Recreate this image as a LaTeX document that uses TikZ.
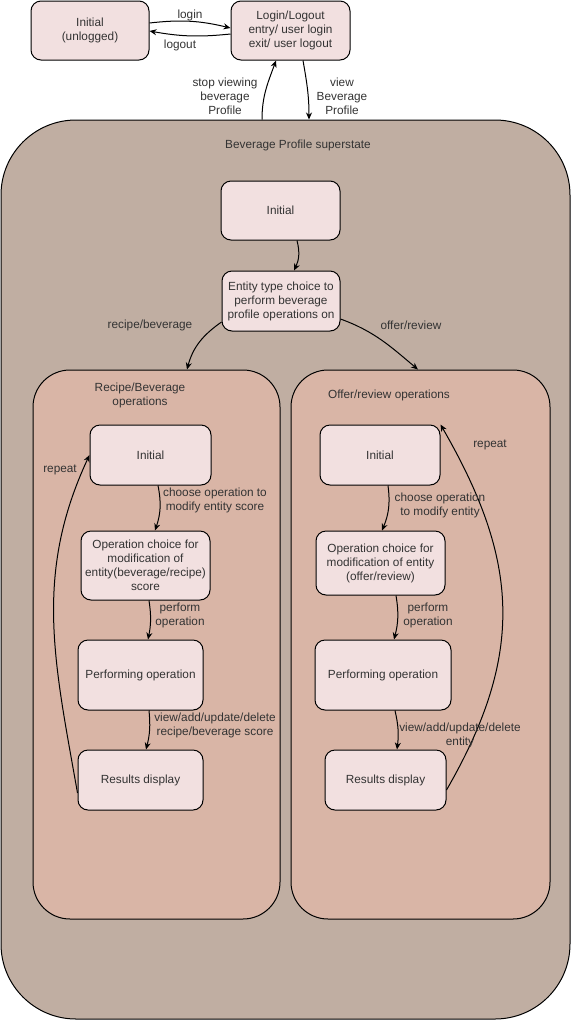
\documentclass[tikz,border=0pt]{standalone}
\usepackage{fontspec}
\setmainfont{Liberation Sans}
\usetikzlibrary{arrows.meta,positioning}
\definecolor{superC}{RGB}{192,174,162}
\definecolor{subC}{RGB}{217,181,166}
\definecolor{stateC}{RGB}{242,224,224}
\definecolor{textC}{RGB}{51,51,51}

\begin{document}
\begin{tikzpicture}
  [x=1pt,y=-1pt,
   stateN/.style={draw,rounded corners=10,fill=stateC,text=textC,align=center,inner sep=2},
   superN/.style={draw,rounded corners=75,fill=superC},
   subN/.style={draw,rounded corners=37,fill=subC},
   lbl/.style={text=textC,align=center,inner sep=1},
   >={Stealth[length=7pt,width=6pt]},
   line width=1pt,
   font=\fontsize{11.8}{14}\selectfont]

  \useasboundingbox (0,0) rectangle (572,1021);

  \node[superN,minimum width=569,minimum height=899] (bevS) at (285.5,569.5) {};
  \node[subN,minimum width=247,minimum height=549]   (recS) at (156.5,644.5) {};
  \node[subN,minimum width=259,minimum height=549]   (offS) at (420.5,644.5) {};

  \node[lbl] (bevT) at (298,145) {Beverage Profile superstate};
  \node[lbl] (recT) at (140,395) {Recipe/Beverage\\operations};
  \node[lbl] (offT) at (389,395) {Offer/review operations};

  \node[stateN,minimum width=118,minimum height=59] (unlog) at  (90,30.5) {Initial\\(unlogged)};
  \node[stateN,minimum width=119,minimum height=59] (login) at (290.5,30.5) {Login/Logout\\entry/ user login\\exit/ user logout};

  \node[stateN,minimum width=119,minimum height=59] (init)   at (280.5,210.5) {Initial};
  \node[stateN,minimum width=118,minimum height=60] (choice) at (281,301) {Entity type choice to\\perform beverage\\profile operations on};

  \node[stateN,minimum width=121,minimum height=60] (rinit)   at (150.5,455)   {Initial};
  \node[stateN,minimum width=129,minimum height=69] (rchoice) at (145.5,565.5) {Operation choice for\\modification of\\entity(beverage/recipe)\\score};
  \node[stateN,minimum width=125,minimum height=70] (rperf)   at (140.5,675)   {Performing operation};
  \node[stateN,minimum width=125,minimum height=60] (rres)    at (140.5,780)   {Results display};

  \node[stateN,minimum width=120,minimum height=60] (oinit)   at (380,455)   {Initial};
  \node[stateN,minimum width=129,minimum height=64] (ochoice) at (380.5,563) {Operation choice for\\modification of entity\\(offer/review)};
  \node[stateN,minimum width=136,minimum height=70] (operf)   at (383,675)   {Performing operation};
  \node[stateN,minimum width=121,minimum height=60] (ores)    at (385.5,780) {Results display};

  \draw [->] ([yshift=7.5]unlog.east) to[bend left=10] ([yshift=2.5]login.west);
  \draw [->] ([yshift=-3.5]login.west) to[bend left=8] ([yshift=-0.5]unlog.east);
  \draw [->] ([xshift=-23.5]bevS.north) to[out=90,in=-110] ([xshift=-14.5]login.south);
  \draw [->] ([xshift=12.5]login.south) to[out=-80,in=90] ([xshift=23.5]bevS.north);

  \draw [->] ([xshift=16.5]init.south) to[bend left=20] ([xshift=13]choice.north);
  \draw [->] ([yshift=-21]choice.west) to[out=215,in=75] ([xshift=30.5]recS.north);
  \draw [->] ([yshift=-18]choice.east) to[out=-20,in=140] ([xshift=-2.5]offS.north);

  \draw [->] ([xshift=7.5]rinit.south) to[bend left=15] ([xshift=9.5]rchoice.north);
  \draw [->] ([xshift=3.5]rchoice.south) to[bend left=10] ([xshift=7.5]rperf.north);
  \draw [->] ([xshift=8.5]rperf.south) to[bend left=10] ([xshift=5.5]rres.north);
  \draw [->] ([yshift=-13]rres.west) to[out=100,in=-115] (rinit.west);

  \draw [->] ([xshift=8]oinit.south) to[bend left=15] ([xshift=1.5]ochoice.north);
  \draw [->] ([xshift=15.5]ochoice.south) to[bend left=12] ([xshift=11]operf.north);
  \draw [->] ([xshift=12]operf.south) to[bend left=10] ([xshift=11.5]ores.north);
  \draw [->] ([yshift=-10]ores.east) to[out=60,in=-60,looseness=1.1] (oinit.north east);

  \node[lbl] (lLogin)   at (190,15)  {login};
  \node[lbl] (lLogout)  at (180,45)  {logout};
  \node[lbl] (lStop)    at (225,96)  {stop viewing\\beverage\\Profile};
  \node[lbl] (lView)    at (342,96)  {view\\Beverage\\Profile};
  \node[lbl] (lRec)     at (150,325) {recipe/beverage};
  \node[lbl] (lOff)     at (411,325) {offer/review};

  \node[lbl] (lRChoose) at (215,500) {choose operation to\\modify entity score};
  \node[lbl] (lRPerf)   at (180,615) {perform\\operation};
  \node[lbl] (lRView)   at (215,725) {view/add/update/delete\\recipe/beverage score};
  \node[lbl] (lRRep)    at (60,470)  {repeat};

  \node[lbl] (lOChoose) at (440,505) {choose operation\\to modify entity};
  \node[lbl] (lOPerf)   at (428,615) {perform\\operation};
  \node[lbl] (lOView)   at (460,735) {view/add/update/delete\\entity};
  \node[lbl] (lORep)    at (490,445) {repeat};
\end{tikzpicture}
\end{document}
